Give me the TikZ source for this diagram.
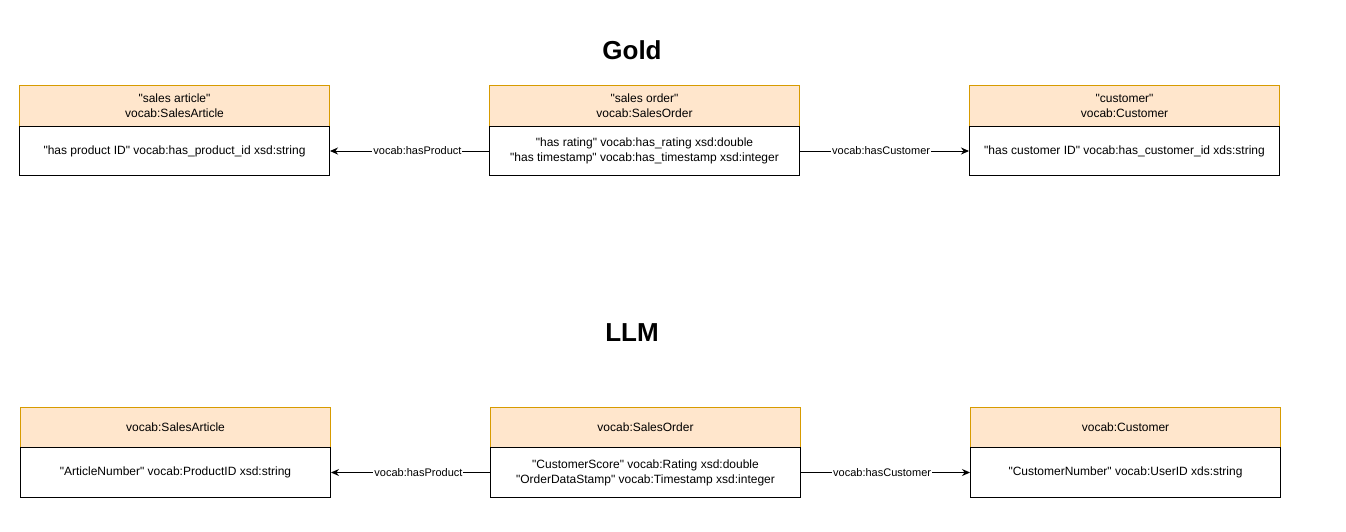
\documentclass[tikz,border=0pt]{standalone}
\usepackage{fontspec}
\setmainfont{Liberation Sans}[Ligatures=TeXOff]
\usetikzlibrary{arrows.meta}
\definecolor{hfill}{HTML}{FFE6CC}
\definecolor{hdraw}{HTML}{D79B00}
\begin{document}
\begin{tikzpicture}[x=1pt,y=-1pt,
  hdr/.style={draw=hdraw,fill=hfill,line width=1pt,minimum width=310pt,minimum height=41pt,inner sep=0pt,anchor=north west,align=center,font=\fontsize{12}{15}\selectfont},
  bdy/.style={draw=black,fill=white,line width=1pt,minimum width=310pt,minimum height=49pt,inner sep=0pt,anchor=north west,align=center,font=\fontsize{12}{15}\selectfont},
  ttl/.style={font=\fontsize{26}{30}\selectfont\bfseries},
  arr/.style={draw=black,line width=1pt,-{Stealth[length=8pt,width=7pt]}},
  lbl/.style={fill=white,inner sep=1pt,font=\fontsize{11}{13}\selectfont}]
\useasboundingbox (0,0) rectangle (1346,531);
% Gold
\node[ttl] (tgold) at (632,50) {Gold};
\node[hdr] (g1h) at (19,85) {"sales article"\\vocab:SalesArticle};
\node[bdy] (g1b) at (19,126) {"has product ID" vocab:has\_product\_id xsd:string};
\node[hdr] (g2h) at (489,85) {"sales order"\\vocab:SalesOrder};
\node[bdy] (g2b) at (489,126) {"has rating" vocab:has\_rating xsd:double\\"has timestamp" vocab:has\_timestamp xsd:integer};
\node[hdr] (g3h) at (969,85) {"customer"\\vocab:Customer};
\node[bdy] (g3b) at (969,126) {"has customer ID" vocab:has\_customer\_id xds:string};
\draw[arr] (g2b.west) -- node[lbl,pos=0.45]{vocab:hasProduct} (g1b.east);
\draw[arr] (g2b.east) -- node[lbl,pos=0.48]{vocab:hasCustomer} (g3b.west);
% LLM
\node[ttl] (tllm) at (632,333) {LLM};
\node[hdr,minimum height=40pt] (l1h) at (20,407) {vocab:SalesArticle};
\node[bdy,minimum height=50pt] (l1b) at (20,447) {"ArticleNumber" vocab:ProductID xsd:string};
\node[hdr,minimum height=40pt] (l2h) at (490,407) {vocab:SalesOrder};
\node[bdy,minimum height=50pt] (l2b) at (490,447) {"CustomerScore" vocab:Rating xsd:double\\"OrderDataStamp" vocab:Timestamp xsd:integer};
\node[hdr,minimum height=40pt] (l3h) at (970,407) {vocab:Customer};
\node[bdy,minimum height=50pt] (l3b) at (970,447) {"CustomerNumber" vocab:UserID xds:string};
\draw[arr] (l2b.west) -- node[lbl,pos=0.45]{vocab:hasProduct} (l1b.east);
\draw[arr] (l2b.east) -- node[lbl,pos=0.48]{vocab:hasCustomer} (l3b.west);
\end{tikzpicture}
\end{document}
